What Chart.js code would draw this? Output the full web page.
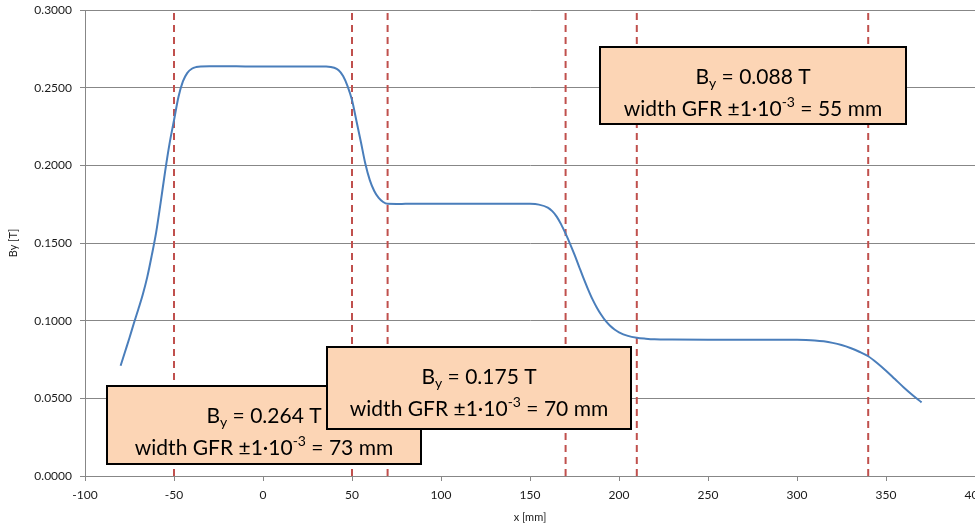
<!DOCTYPE html>
<html>
<head>
<meta charset="utf-8">
<script src="https://cdn.jsdelivr.net/npm/chart.js@4.4.0/dist/chart.umd.min.js"></script>
<style>
  html, body { margin: 0; padding: 0; overflow: hidden; background: #fff; }
</style>
</head>
<body>
<canvas id="chart" width="1000" height="524"></canvas>
<script>
// position along the magnet [mm] and field By [T]
const xValues = [
  -80, -77.5, -75, -72.5, -70, -67.5, -65, -62.5, -60, -57.5, -55, -52.5, -50, -47.5, -45, -42.5, -40, -37.5, -35,
  -30, -20, -10, 0, 10, 20, 30, 35, 40, 42.5, 45, 47.5, 50, 52.5, 55, 57.5, 60, 62.5, 65, 67.5, 70,
  75, 80, 90, 100, 110, 120, 130, 140, 150, 155, 160, 162.5, 165, 167.5, 170, 172.5, 175, 177.5, 180,
  182.5, 185, 187.5, 190, 192.5, 195, 197.5, 200, 205, 210, 215, 220, 230, 250, 270, 290, 300, 305,
  310, 315, 320, 325, 330, 335, 340, 345, 350, 355, 360, 365, 370
];
const byValues = [
  0.0710, 0.0800, 0.0890, 0.0985, 0.1075, 0.1170, 0.1282, 0.1420, 0.1570, 0.1760, 0.1960, 0.2140, 0.2290, 0.2440, 0.2540, 0.2595, 0.2622, 0.2633, 0.2637,
  0.2638, 0.2638, 0.2637, 0.2637, 0.2637, 0.2637, 0.2637, 0.2636, 0.2628, 0.2612, 0.2575, 0.2510, 0.2420, 0.2285, 0.2150, 0.2010, 0.1905, 0.1835, 0.1790, 0.1764, 0.1752,
  0.1751, 0.1752, 0.1753, 0.1753, 0.1753, 0.1753, 0.1753, 0.1753, 0.1752, 0.1747, 0.1728, 0.1705, 0.1670, 0.1620, 0.1560, 0.1495, 0.1425, 0.1350, 0.1275,
  0.1205, 0.1140, 0.1085, 0.1038, 0.0998, 0.0967, 0.0943, 0.0925, 0.0902, 0.0890, 0.0884, 0.0880, 0.0878, 0.0877, 0.0877, 0.0877, 0.0877, 0.0876,
  0.0873, 0.0867, 0.0857, 0.0843, 0.0824, 0.0800, 0.0771, 0.0728, 0.0678, 0.0624, 0.0570, 0.0520, 0.0474
];
// vertical dashed markers [mm]
const markerX = [-50, 50, 70, 170, 210, 340];
// axis ticks
const xTicks = [-100, -50, 0, 50, 100, 150, 200, 250, 300, 350, 400];
const yTicks = [0, 0.05, 0.10, 0.15, 0.20, 0.25, 0.30];
// annotation boxes text
const boxBy = ['0.264', '0.175', '0.088'];
const boxGfr = ['73', '70', '55'];

const gridColor = '#878787';
const textColor = '#1a1a1a';

const curve = xValues.map((x, i) => ({ x: x, y: byValues[i] }));

const markerSets = markerX.map(m => ({
  data: [{ x: m, y: yTicks[0] }, { x: m, y: yTicks[yTicks.length - 1] }],
  showLine: true,
  borderColor: '#c0504d',
  borderWidth: 2,
  borderDash: [7, 5],
  pointRadius: 0,
  fill: false
}));

// boxes in pixels: left, top, right, bottom (drawn in this order)
const boxRects = [
  [107, 386, 421, 464],
  [327, 347, 631, 429],
  [600, 47, 906, 124]
];

function drawRich(ctx, parts, cx, cy, size) {
  let total = 0;
  parts.forEach(p => {
    ctx.font = (p[1] ? Math.round(size * 0.65) : size) + 'px Lato';
    p.w = ctx.measureText(p[0]).width;
    total += p.w;
  });
  let x = cx - total / 2;
  parts.forEach(p => {
    ctx.font = (p[1] ? Math.round(size * 0.65) : size) + 'px Lato';
    const dy = p[1] === 'sub' ? size * 0.3 : p[1] === 'sup' ? -size * 0.33 : 0;
    ctx.fillText(p[0], x, cy + dy);
    x += p.w;
  });
}

const boxPlugin = {
  id: 'boxes',
  afterDraw(chart) {
    const ctx = chart.ctx;
    ctx.save();
    boxRects.forEach((r, i) => {
      const [l, t, rr, b] = r;
      ctx.fillStyle = '#fcd5b5';
      ctx.fillRect(l, t, rr - l, b - t);
      ctx.strokeStyle = '#000';
      ctx.lineWidth = 2;
      ctx.strokeRect(l, t, rr - l, b - t);
      ctx.fillStyle = '#000';
      ctx.textBaseline = 'middle';
      ctx.textAlign = 'left';
      const cx = (l + rr) / 2;
      drawRich(ctx, [['B'], ['y', 'sub'], [' = ' + boxBy[i] + ' T']], cx, t + 30, 21);
      drawRich(ctx, [['width GFR \u00b11\u00b710'], ['-3', 'sup'], [' = ' + boxGfr[i] + ' mm']], cx, t + 62, 21);
    });
    ctx.restore();
  }
};

new Chart(document.getElementById('chart'), {
  type: 'scatter',
  data: {
    datasets: [
      {
        data: curve,
        showLine: true,
        borderColor: '#4a7ebb',
        borderWidth: 2,
        pointRadius: 0,
        cubicInterpolationMode: 'monotone',
        fill: false
      },
      ...markerSets
    ]
  },
  options: {
    responsive: false,
    animation: false,
    layout: { padding: { left: 0, right: 25, top: 10, bottom: 0 } },
    plugins: { legend: { display: false }, tooltip: { enabled: false } },
    scales: {
      x: {
        type: 'linear',
        min: xTicks[0],
        max: xTicks[xTicks.length - 1],
        afterBuildTicks: s => { s.ticks = xTicks.map(v => ({ value: v })); },
        afterFit: s => { s.height = 48; s.paddingLeft = 0; s.paddingRight = 0; },
        grid: { drawOnChartArea: false, drawTicks: true, tickLength: 5, color: gridColor },
        border: { color: gridColor },
        ticks: { color: textColor, font: { family: 'Lato', size: 12 }, padding: 7, maxRotation: 0 },
        title: { display: true, text: 'x [mm]', color: textColor, font: { family: 'Lato', size: 11 }, padding: 0 }
      },
      y: {
        min: yTicks[0],
        max: yTicks[yTicks.length - 1],
        afterBuildTicks: s => { s.ticks = yTicks.map(v => ({ value: v })); },
        afterFit: s => { s.width = 85; s.paddingTop = 0; s.paddingBottom = 0; },
        grid: { color: gridColor, tickLength: 5 },
        border: { color: gridColor },
        ticks: { color: textColor, font: { family: 'Lato', size: 12 }, padding: 8, callback: v => v.toFixed(4) },
        title: { display: true, text: 'By [T]', color: textColor, font: { family: 'Lato', size: 11 }, padding: { top: 7, bottom: 0 } }
      }
    }
  },
  plugins: [boxPlugin]
});
</script>
</body>
</html>
